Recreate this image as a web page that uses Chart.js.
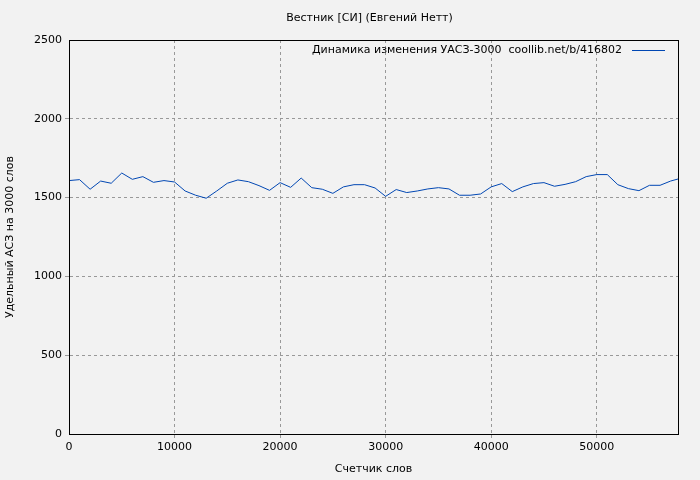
<!DOCTYPE html>
<html><head><meta charset="utf-8">
<script src="https://cdn.jsdelivr.net/npm/chart.js@4"></script>
<style>html,body{margin:0;padding:0;background:#f2f2f2}#w{width:700px;height:480px}</style>
</head><body><div id="w"><canvas id="c"></canvas></div>
<script>
const titleText = "Вестник [СИ] (Евгений Нетт)";
const seriesLabel = "Динамика изменения УАСЗ-3000  coollib.net/b/416802";
const xTitle = "Счетчик слов";
const yTitle = "Удельный АСЗ на 3000 слов";
const xTicks = [0,10000,20000,30000,40000,50000];
const yTicks = [0,500,1000,1500,2000,2500];
const words = [0,1000,2000,3000,4000,5000,6000,7000,8000,9000,10000,11000,12000,13000,14000,15000,16000,17000,18000,19000,20000,21000,22000,23000,24000,25000,26000,27000,28000,29000,30000,31000,32000,33000,34000,35000,36000,37000,38000,39000,40000,41000,42000,43000,44000,45000,46000,47000,48000,49000,50000,51000,52000,53000,54000,55000,56000,57000,57700];
const values = [1608,1614,1553,1605,1591,1656,1616,1633,1597,1608,1599,1542,1515,1496,1542,1591,1612,1601,1576,1546,1595,1565,1624,1563,1553,1527,1568,1582,1582,1561,1508,1551,1532,1542,1555,1563,1555,1515,1515,1523,1568,1589,1538,1568,1589,1595,1572,1584,1601,1633,1646,1646,1582,1557,1544,1578,1578,1605,1618];
const F = "'DejaVu Sans', sans-serif";
const deco = {
  id:'deco',
  afterDraw(ch){
    const {ctx, chartArea:a} = ch;
    ctx.save();
    ctx.strokeStyle='#000'; ctx.lineWidth=1;
    ctx.strokeRect(a.left+0.5,a.top+0.5,a.right-a.left,a.bottom-a.top);
    ctx.fillStyle='#000'; ctx.font="11px "+F; ctx.textAlign='center'; ctx.textBaseline='middle';
    ctx.fillText(titleText,(a.left+a.right)/2-4,18);
    ctx.textAlign='right';
    ctx.fillText(seriesLabel,a.right-56,50);
    ctx.strokeStyle='#0047b3'; ctx.beginPath(); ctx.moveTo(a.right-46,50.5); ctx.lineTo(a.right-13,50.5); ctx.stroke();
    ctx.restore();
  }
};
new Chart(document.getElementById('c'),{
  type:'line',
  data:{datasets:[{data:words.map((w,i)=>({x:w,y:values[i]})),borderColor:'#0047b3',borderWidth:1,pointRadius:0,tension:0}]},
  options:{
    responsive:true,maintainAspectRatio:false,animation:false,
    layout:{padding:{top:40,right:22,left:0,bottom:0}},
    plugins:{legend:{display:false},tooltip:{enabled:false}},
    scales:{
      x:{type:'linear',min:0,max:57700,
        afterBuildTicks(s){s.ticks=xTicks.map(v=>({value:v}));},
        ticks:{autoSkip:false,color:'#000',font:{family:F,size:11},maxRotation:0,callback:v=>String(v)},
        grid:{color:'#999',tickLength:4,lineWidth:c=>c.tick&&c.tick.value===0?0:1},
        border:{display:true,color:'#000',dash:[3,3]},
        title:{display:true,text:xTitle,color:'#000',font:{family:F,size:11},padding:{top:2}},
        afterFit(s){s.height=46;}},
      y:{min:0,max:2500,
        afterBuildTicks(s){s.ticks=yTicks.map(v=>({value:v}));},
        ticks:{color:'#000',font:{family:F,size:11},callback:v=>String(v)},
        grid:{color:'#999',tickLength:4,lineWidth:c=>c.tick&&(c.tick.value===0||c.tick.value===2500)?0:1},
        border:{display:true,color:'#000',dash:[3,3]},
        title:{display:true,text:yTitle,color:'#000',font:{family:F,size:11}},
        afterFit(s){s.width=69;}}
    }
  },
  plugins:[deco]
});
</script></body></html>
